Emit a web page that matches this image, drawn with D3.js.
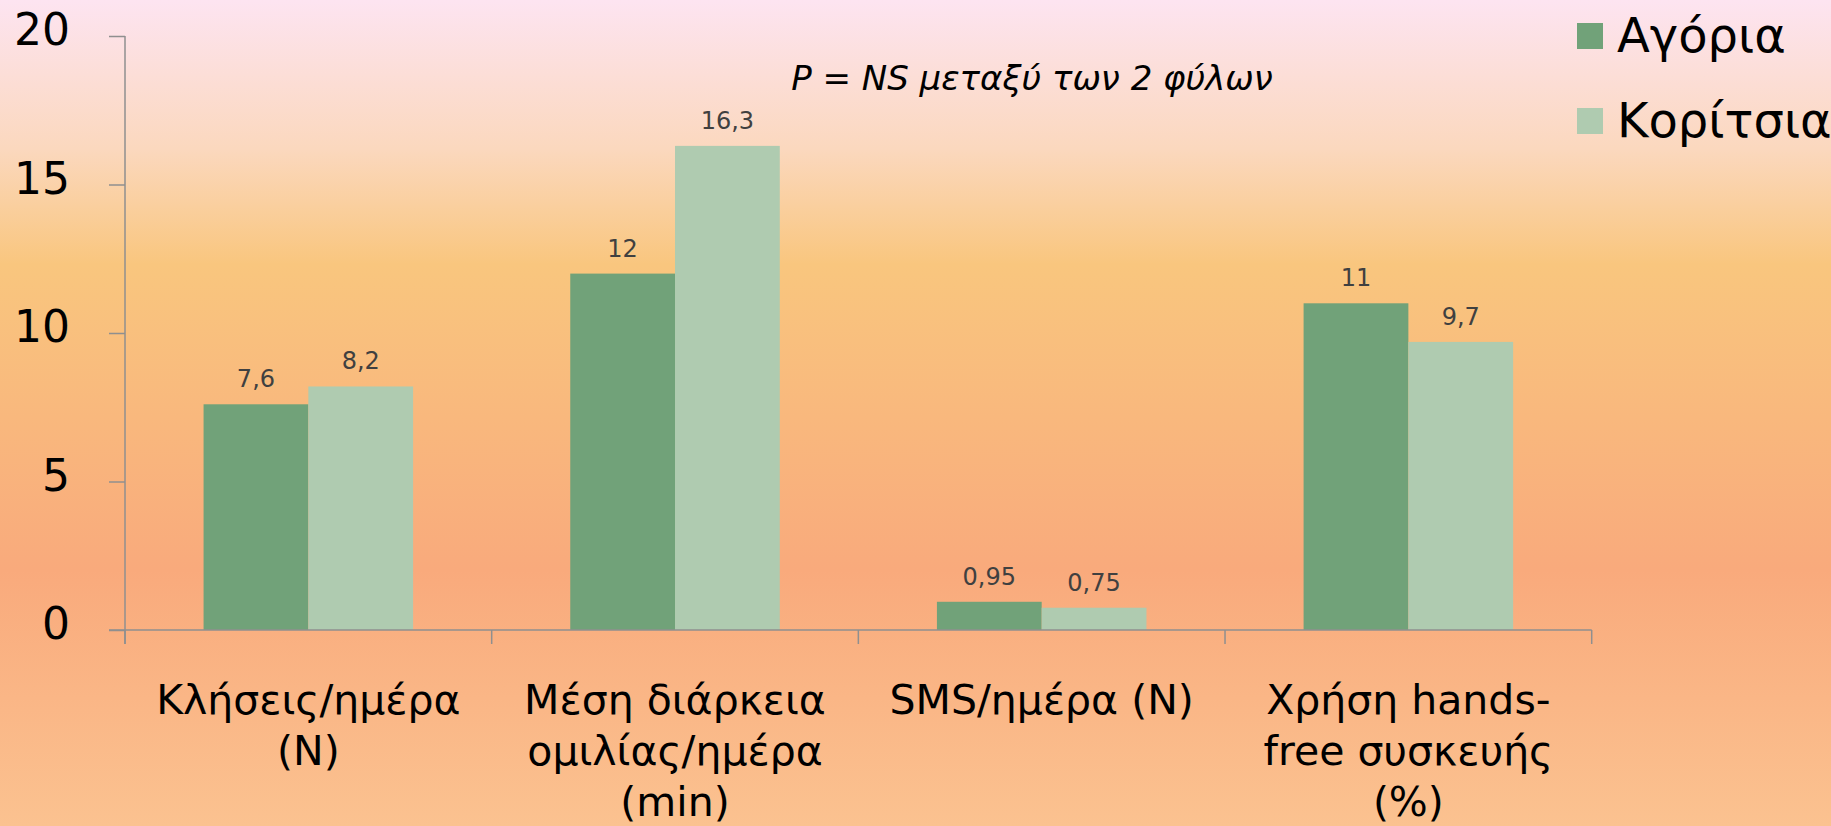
<!DOCTYPE html>
<html>
<head>
<meta charset="utf-8">
<script src="https://cdn.jsdelivr.net/npm/d3@7"></script>
<style>
  html, body { margin: 0; padding: 0; }
  svg { display: block; font-family: "DejaVu Sans", sans-serif; }
</style>
</head>
<body>
<svg id="chart" width="1831" height="826"></svg>
<script>
// data
const categories = [
  ["Κλήσεις/ημέρα", "(N)"],
  ["Μέση διάρκεια", "ομιλίας/ημέρα", "(min)"],
  ["SMS/ημέρα (N)"],
  ["Χρήση hands-", "free συσκευής", "(%)"]
];
const series = ["Αγόρια", "Κορίτσια"];
const boys = [7.6, 12, 0.95, 11];
const girls = [8.2, 16.3, 0.75, 9.7];
const labels = [["7,6", "8,2"], ["12", "16,3"], ["0,95", "0,75"], ["11", "9,7"]];
const yTicks = [0, 5, 10, 15, 20];
const note = "P = NS μεταξύ των 2 φύλων";
const colors = ["#71a279", "#afcbb0"];

const svg = d3.select("#chart");
const W = 1831, H = 826;

// background gradient
let defs = svg.append("defs");
let grad = defs.append("linearGradient")
  .attr("id", "bg").attr("x1", 0).attr("y1", 0).attr("x2", 0).attr("y2", 1);
[[0, "#fde4f1"], [0.18, "#fbd8be"], [0.32, "#f9c67e"], [0.69, "#f9aa7c"], [1, "#fbc290"]]
  .forEach(s => grad.append("stop").attr("offset", s[0]).attr("stop-color", s[1]));
svg.append("rect").attr("width", W).attr("height", H).attr("fill", "url(#bg)");

let x = d3.scaleBand()
  .domain(d3.range(categories.length))
  .range([125, 1591.7]);

// gap width 150%
let barW = x.bandwidth() / 3.5;
let x1 = d3.scaleBand()
  .domain(series)
  .range([barW * 0.75, barW * 2.75]);

let y = d3.scaleLinear()
  .domain([0, 20])
  .range([630, 36]);

let rows = categories.map((c, i) => ({ i: i, vals: [boys[i], girls[i]] }));

let grp = svg.selectAll(".grp")
  .data(rows)
  .enter().append("g")
  .attr("class", "grp")
  .attr("transform", d => `translate(${x(d.i)},0)`);

grp.selectAll("rect")
  .data(d => d.vals.map((v, k) => ({ v: v, k: k, i: d.i })))
  .enter().append("rect")
  .attr("x", d => x1(series[d.k]))
  .attr("y", d => y(d.v))
  .attr("width", x1.bandwidth())
  .attr("height", d => y(0) - y(d.v))
  .attr("fill", d => colors[d.k]);

grp.selectAll(".val")
  .data(d => d.vals.map((v, k) => ({ v: v, k: k, i: d.i })))
  .enter().append("text")
  .attr("class", "val")
  .attr("x", d => x1(series[d.k]) + x1.bandwidth() / 2)
  .attr("y", d => y(d.v) - 17)
  .attr("text-anchor", "middle")
  .attr("font-size", 24)
  .attr("fill", "#404040")
  .text(d => labels[d.i][d.k]);

// axes
let axisColor = "#8f8f8f";
let yAxis = svg.append("g")
  .attr("transform", "translate(125,0)")
  .call(d3.axisLeft(y).tickValues(yTicks).tickSize(16).tickPadding(0).tickFormat(d3.format("d")));
yAxis.select(".domain").remove();
yAxis.selectAll(".tick line").attr("stroke", axisColor).attr("stroke-width", 1.5);
yAxis.selectAll(".tick text").remove();
yAxis.append("line")
  .attr("x1", 0).attr("x2", 0).attr("y1", y(20)).attr("y2", 644)
  .attr("stroke", axisColor).attr("stroke-width", 1.5);

svg.append("g").selectAll("text")
  .data(yTicks)
  .enter().append("text")
  .attr("x", 70)
  .attr("y", d => y(d) + 9)
  .attr("text-anchor", "end")
  .attr("font-size", 44)
  .attr("fill", "#000")
  .text(d => d);

let xAxis = svg.append("g");
xAxis.append("line")
  .attr("x1", 109).attr("x2", 1591.7).attr("y1", y(0)).attr("y2", y(0))
  .attr("stroke", axisColor).attr("stroke-width", 1.5);
xAxis.selectAll(".xt")
  .data(d3.range(categories.length + 1))
  .enter().append("line")
  .attr("x1", d => 125 + d * x.bandwidth())
  .attr("x2", d => 125 + d * x.bandwidth())
  .attr("y1", y(0)).attr("y2", 644)
  .attr("stroke", axisColor).attr("stroke-width", 1.5);

let cat = svg.append("g").selectAll("text")
  .data(categories)
  .enter().append("text")
  .attr("x", (d, i) => x(i) + x.bandwidth() / 2)
  .attr("y", 714)
  .attr("text-anchor", "middle")
  .attr("font-size", 41)
  .attr("fill", "#000");
cat.selectAll("tspan")
  .data(d => d)
  .enter().append("tspan")
  .attr("x", function () { return d3.select(this.parentNode).attr("x"); })
  .attr("dy", (d, j) => j === 0 ? 0 : 51)
  .text(d => d);

// note
svg.append("text")
  .attr("x", 1032)
  .attr("y", 90)
  .attr("text-anchor", "middle")
  .attr("font-size", 34)
  .attr("font-style", "italic")
  .attr("fill", "#000")
  .text(note);

// legend
let leg = svg.append("g").selectAll("g")
  .data(series)
  .enter().append("g")
  .attr("transform", (d, i) => `translate(1577,${23 + i * 85})`);
leg.append("rect")
  .attr("width", 26).attr("height", 26)
  .attr("fill", (d, i) => colors[i]);
leg.append("text")
  .attr("x", 40)
  .attr("y", 29)
  .attr("font-size", 48)
  .attr("fill", "#000")
  .text(d => d);
</script>
</body>
</html>
